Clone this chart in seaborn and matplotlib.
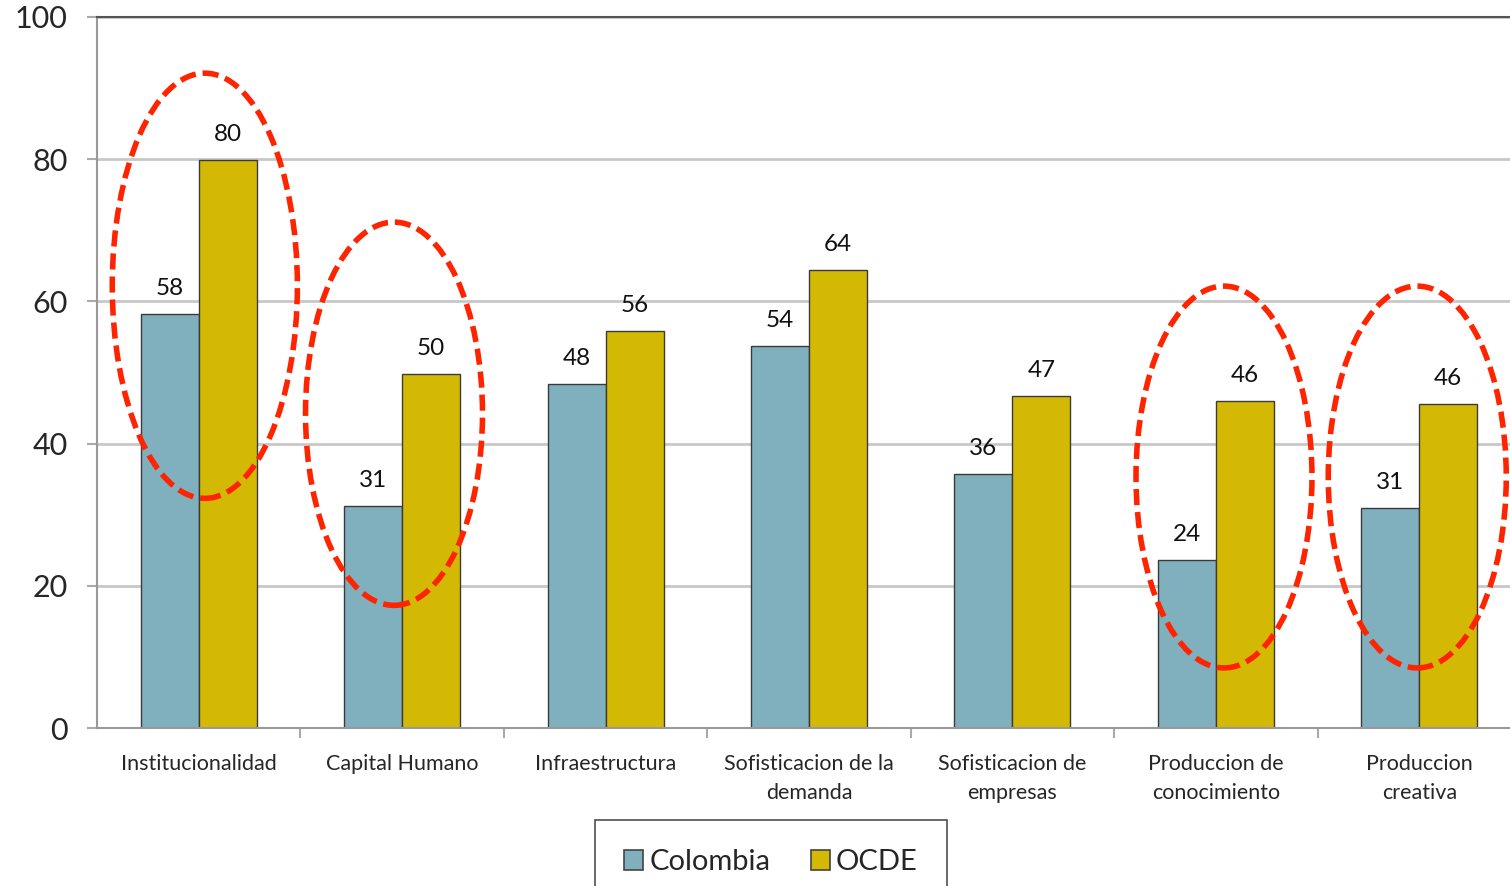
import matplotlib.pyplot as plt
import seaborn as sns
import pandas as pd
from matplotlib.patches import Ellipse

# values
categories = ['Institucionalidad', 'Capital Humano', 'Infraestructura',
              'Sofisticacion de la\ndemanda', 'Sofisticacion de\nempresas',
              'Produccion de\nconocimiento', 'Produccion\ncreativa']
colombia = [58.2, 31.2, 48.4, 53.7, 35.7, 23.6, 30.9]
ocde = [79.9, 49.8, 55.8, 64.4, 46.7, 46.0, 45.6]
series = ['Colombia', 'OCDE']
colors = ['#80AFBE', '#D3B904']

# highlighted groups: (category index offset, centre y, width, height)
highlights = [(0.03, 62.2, 0.91, 59.8), (0.96, 44.2, 0.87, 53.9),
              (5.04, 35.3, 0.865, 53.7), (5.99, 35.3, 0.875, 53.7)]

df = pd.DataFrame({'Categoria': categories * 2,
                   'Valor': colombia + ocde,
                   'Serie': ['Colombia'] * len(categories) + ['OCDE'] * len(categories)})

sns.set_style("white")
plt.rcParams['font.family'] = ['Lato', 'DejaVu Sans']

fig = plt.figure(figsize=(15.1, 8.86), dpi=100)
ax = fig.add_axes([97 / 1510, 158 / 886, 1424 / 1510, 711 / 886])

sns.barplot(data=df, x='Categoria', y='Valor', hue='Serie', hue_order=series,
            palette=colors, saturation=1, width=0.57, gap=0, edgecolor='#3a3a3a',
            linewidth=1.0, ax=ax, legend=False)

for cont in ax.containers:
    ax.bar_label(cont, fmt='%.0f', padding=11, fontsize=17.5, color='#111111')

for cx, cy, w, h in highlights:
    ax.add_patch(Ellipse((cx, cy), w, h, fill=False, edgecolor='#FF2400',
                         linewidth=4.0, linestyle=(0, (2.9, 1.25)), zorder=5,
                         clip_on=False))

ax.set_ylim(0, 100)
ax.set_xlim(-0.5, len(categories) - 0.5)
ax.set_yticks([0, 20, 40, 60, 80, 100])
ax.yaxis.grid(True, color='#C8C8C8', linewidth=2)
ax.set_axisbelow(True)
ax.set_xlabel('')
ax.set_ylabel('')

ax.tick_params(axis='y', which='major', direction='out', length=7, width=1.5,
               color='#AAAAAA', labelsize=22, pad=14, left=True)
ax.tick_params(axis='x', which='major', length=0, labelsize=15.5, pad=19)
ax.set_xticks([i + 0.5 for i in range(len(categories) - 1)], minor=True)
ax.tick_params(axis='x', which='minor', direction='out', length=7, width=1.5,
               color='#AAAAAA', bottom=True)
for lab in ax.get_xticklabels():
    lab.set_linespacing(1.55)

ax.spines['top'].set_color('#555555')
ax.spines['top'].set_linewidth(1.5)
ax.spines['left'].set_color('#999999')
ax.spines['left'].set_linewidth(1.5)
ax.spines['bottom'].set_color('#999999')
ax.spines['bottom'].set_linewidth(1.5)
ax.spines['right'].set_visible(False)

handles = [plt.Rectangle((0, 0), 1, 1, facecolor=c, edgecolor='#444444', linewidth=1.2)
           for c in colors]
leg = fig.legend(handles, series, loc='upper center', bbox_to_anchor=(771 / 1510, 66 / 886),
                 ncol=2, fontsize=21, frameon=True, fancybox=False, edgecolor='#222222',
                 handlelength=0.65, handleheight=0.65, handletextpad=0.2,
                 columnspacing=1.4, borderpad=1.0, borderaxespad=0)
leg.get_frame().set_linewidth(1.2)

fig.savefig('out.png', dpi=100)
